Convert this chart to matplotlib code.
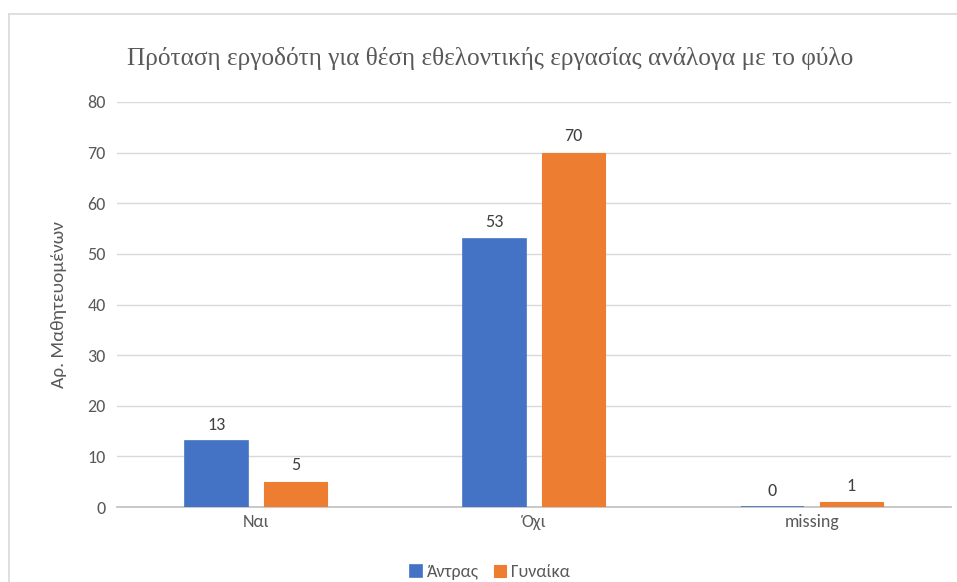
import matplotlib.pyplot as plt
import numpy as np
from matplotlib.lines import Line2D

categories = ['Ναι', 'Όχι', 'missing']
men = [13, 53, 0]
women = [5, 70, 1]
series_names = ['Άντρας', 'Γυναίκα']

blue = '#4472C4'
orange = '#ED7D31'
grey_text = '#595959'

plt.rcParams['font.family'] = 'Carlito'

fig = plt.figure(figsize=(9.57, 5.82), dpi=100)
ax = fig.add_axes([117 / 957, 1 - 507 / 582, (951 - 117) / 957, (507 - 102) / 582])

x = np.arange(len(categories))
w = 0.227
off = 0.142
b1 = ax.bar(x - off, men, w, color=blue, edgecolor=blue, linewidth=1.2,
            label=series_names[0], zorder=3)
b2 = ax.bar(x + off, women, w, color=orange, edgecolor=orange, linewidth=0.8,
            label=series_names[1], zorder=3)

for bars in (b1, b2):
    ax.bar_label(bars, padding=6, fontsize=13, color='#404040')

ax.set_xlim(-0.5, 2.5)
ax.set_ylim(0, 80)
ax.set_yticks(range(0, 81, 10))
ax.set_xticks(x)
ax.set_xticklabels(categories)
ax.grid(axis='y', color='#d9d9d9', linewidth=1)
ax.set_axisbelow(True)
for s in ['top', 'right', 'left']:
    ax.spines[s].set_visible(False)
ax.spines['bottom'].set_color('#bfbfbf')
ax.spines['bottom'].set_linewidth(1.2)
ax.spines['bottom'].set_zorder(2)
ax.tick_params(axis='both', length=0, labelsize=13, labelcolor=grey_text)
ax.tick_params(axis='y', pad=8)
ax.tick_params(axis='x', pad=5)

ax.set_ylabel('Αρ. Μαθητευομένων', fontsize=14, color=grey_text, labelpad=15)

fig.text(490 / 957, 1 - 58 / 582, 'Πρόταση εργοδότη για θέση εθελοντικής εργασίας ανάλογα με το φύλο',
         ha='center', va='center', fontsize=18.2, color=grey_text, family='Liberation Serif')

fig.legend(handles=[b1, b2], loc='center', bbox_to_anchor=(490 / 957, 1 - 572 / 582),
           ncol=2, frameon=False, fontsize=13, labelcolor=grey_text,
           handlelength=0.65, handleheight=0.65, handletextpad=0.3, columnspacing=0.8)

# chart frame (partly cropped in the reference)
fig.add_artist(Line2D([9 / 957, 9 / 957], [0, 1 - 14 / 582], color='#d9d9d9', linewidth=1.2,
                      transform=fig.transFigure))
fig.add_artist(Line2D([9 / 957, 1], [1 - 14 / 582, 1 - 14 / 582], color='#d9d9d9', linewidth=1.2,
                      transform=fig.transFigure))

fig.savefig('out.png', dpi=100)
